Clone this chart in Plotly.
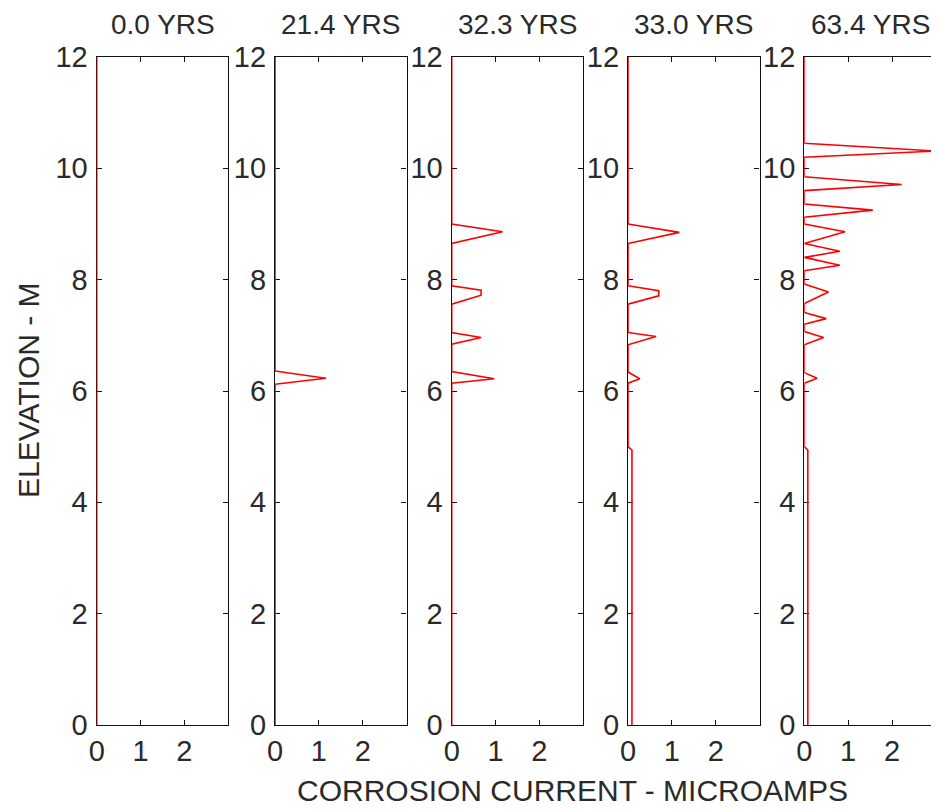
import plotly.graph_objects as go

# page offset: the figure is drawn 8 px in from the window's top-left corner
OFF = 8
W, H = 939 - OFF, 811 - OFF

titles = ["0.0 YRS", "21.4 YRS", "32.3 YRS", "33.0 YRS", "63.4 YRS"]

elev_0 = [0, 12]
cur_0 = [0, 0]

elev_21 = [0, 6.12, 6.23, 6.36, 12]
cur_21 = [0, 0, 1.16, 0, 0]

elev_32 = [0, 6.14, 6.22, 6.35, 6.84, 6.96, 7.05, 7.56, 7.72, 7.81, 7.89, 8.65, 8.86, 9.0, 12]
cur_32 = [0, 0, 0.97, 0, 0, 0.67, 0, 0, 0.67, 0.67, 0, 0, 1.16, 0, 0]

elev_33 = [0, 4.94, 5.0, 6.14, 6.22, 6.34, 6.83, 6.98, 7.05, 7.56, 7.71, 7.80, 7.89, 8.65, 8.85, 9.0, 12]
cur_33 = [0.09, 0.09, 0, 0, 0.27, 0, 0, 0.64, 0, 0, 0.70, 0.70, 0, 0, 1.17, 0, 0]

elev_63 = [0, 4.94, 5.0, 6.14, 6.23, 6.33, 6.83, 6.96, 7.07, 7.20, 7.30, 7.41, 7.57, 7.78, 7.92,
           8.16, 8.26, 8.40, 8.51, 8.65, 8.86, 9.0, 9.12, 9.25, 9.36, 9.6, 9.71, 9.85, 10.2, 10.31, 10.45, 12]
cur_63 = [0.08, 0.08, 0, 0, 0.29, 0, 0, 0.44, 0, 0, 0.50, 0, 0, 0.55, 0,
          0, 0.81, 0, 0.81, 0, 0.93, 0, 0, 1.56, 0, 0, 2.22, 0, 0, 3.0, 0, 0]

series = [(elev_0, cur_0), (elev_21, cur_21), (elev_32, cur_32), (elev_33, cur_33), (elev_63, cur_63)]

x_ticks = [0, 1, 2]
y_ticks = [0, 2, 4, 6, 8, 10, 12]

# pixel geometry (window coordinates)
lefts = [96.7, 275.0, 451.7, 628.0, 804.3]
pw = 131.6
top_px, bot_px = 57, 725


def fx(px):
    return min(1.0, max(0.0, (px - OFF) / W))


def fy(py):
    return min(1.0, max(0.0, 1 - (py - OFF) / H))


FONT = "Liberation Sans, Arial, sans-serif"
fsz_tick = 29
fsz_text = 30
fsz_title = 28
TXT = "#2a2a2a"

fig = go.Figure()
layout = dict(
    template=None,
    width=W, height=H,
    margin=dict(l=0, r=0, t=0, b=0, pad=0, autoexpand=False),
    paper_bgcolor="white", plot_bgcolor="white",
    showlegend=False,
    font=dict(family=FONT, size=fsz_text, color=TXT),
)
annotations = []
for i, (ev, cu) in enumerate(series):
    n = "" if i == 0 else str(i + 1)
    fig.add_trace(go.Scatter(x=cu, y=ev, mode="lines", line=dict(color="#ff0000", width=1.6),
                             xaxis="x" + n, yaxis="y" + n, hoverinfo="skip"))
    axcommon = dict(showgrid=False, zeroline=False, showline=True, linecolor="#111", linewidth=1.3,
                    mirror="ticks", ticks="inside", ticklen=5, tickcolor="#111", tickwidth=1.3,
                    automargin=False,
                    layer="below traces", tickfont=dict(family=FONT, size=fsz_tick, color=TXT))
    layout["xaxis" + n] = dict(axcommon, range=[0, 3], tickvals=x_ticks,
                               domain=[fx(lefts[i]), fx(lefts[i] + pw)],
                               anchor="y" + n, ticklabelstandoff=0)
    layout["yaxis" + n] = dict(axcommon, range=[0, 12], tickvals=y_ticks,
                               domain=[fy(bot_px), fy(top_px)],
                               anchor="x" + n, ticklabelstandoff=2)
    annotations.append(dict(text=titles[i], x=fx(lefts[i] + pw / 2), y=1.0,
                            xref="paper", yref="paper", showarrow=False,
                            xanchor="center", yanchor="top", borderpad=0,
                            font=dict(family=FONT, size=fsz_title, color=TXT)))

annotations.append(dict(text="CORROSION CURRENT - MICROAMPS", x=fx(572), y=fy(790),
                        xref="paper", yref="paper", showarrow=False,
                        xanchor="center", yanchor="middle",
                        font=dict(family=FONT, size=fsz_text, color=TXT)))
annotations.append(dict(text="ELEVATION - M", x=fx(28), y=fy(390), textangle=-90,
                        xref="paper", yref="paper", showarrow=False,
                        xanchor="center", yanchor="middle",
                        font=dict(family=FONT, size=fsz_text, color=TXT)))
layout["annotations"] = annotations
fig.update_layout(**layout)
fig.write_html("out.html")
